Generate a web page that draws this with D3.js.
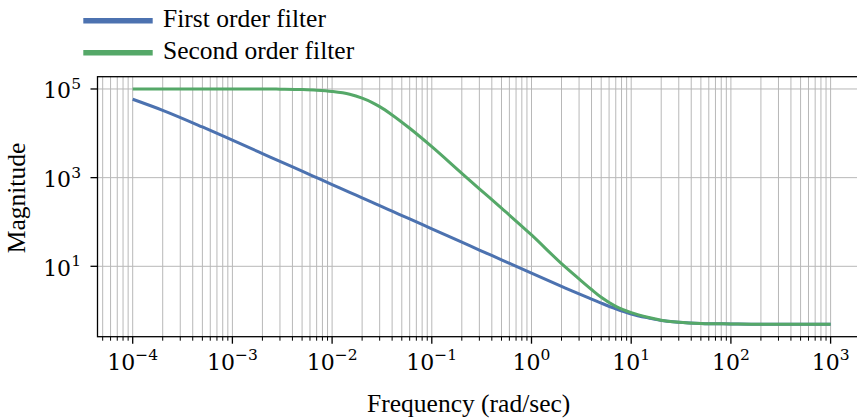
<!DOCTYPE html>
<html>
<head>
<meta charset="utf-8">
<script src="https://cdn.jsdelivr.net/npm/d3@7"></script>
<style>
  html, body { margin: 0; padding: 0; background: #ffffff; }
  svg { display: block; }
</style>
</head>
<body>
<svg id="chart" width="857" height="420"></svg>
<script>
// ---- data ----
const freq = [1e-4, 2e-4, 5e-4, 1e-3, 2e-3, 3e-3, 5e-3, 7e-3, 1e-2, 1.5e-2, 2e-2, 2.5e-2, 3e-2, 4e-2, 6e-2,
              1e-1, 2e-1, 3e-1, 5e-1, 1, 2, 3, 4, 5, 7, 10, 15, 20, 30, 50, 100, 200, 500, 1000];
const firstOrder = [5.86e4, 3.3e4, 1.39e4, 7.0e3, 3.5e3, 2.33e3, 1.4e3, 1.0e3, 700, 467, 350, 280, 233, 175, 117,
                    70, 35, 23.3, 14, 7.0, 3.53, 2.38, 1.82, 1.48, 1.1, 0.84, 0.68, 0.6, 0.55, 0.515, 0.5, 0.49, 0.49, 0.49];
const secondOrder = [1.0e5, 1.0e5, 1.0e5, 1.0e5, 1.0e5, 9.9e4, 9.7e4, 9.4e4, 8.8e4, 7.6e4, 6.2e4, 5.0e4, 4.0e4, 2.6e4, 1.3e4,
                     5.0e3, 1.25e3, 560, 205, 51, 11.5, 5.2, 3.0, 2.0, 1.25, 0.9, 0.7, 0.61, 0.55, 0.515, 0.5, 0.49, 0.49, 0.49];
const seriesNames = ["First order filter", "Second order filter"];
const seriesColors = ["#4c72b0", "#55a868"];
const xTickExps = [-4, -3, -2, -1, 0, 1, 2, 3];
const yTickExps = [1, 3, 5];
const xLabel = "Frequency (rad/sec)";
const yLabel = "Magnitude";

// ---- layout ----
const svg = d3.select("#chart");
const L = 97.5, R = 865.7, T = 76.7, B = 336.7;
const serif = "'Liberation Serif', 'Times New Roman', serif";
const mathFont = "'DejaVu Serif', serif";

const x = d3.scaleLog().domain([Math.pow(10, -4.353), Math.pow(10, 3.352)]).range([L, R]);
const y = d3.scaleLog().domain([Math.pow(10, -0.588), Math.pow(10, 5.277)]).range([B, T]);

const minus = "\u2212";
function expText(e) { return e < 0 ? minus + Math.abs(e) : String(e); }

// grid: x major + minor
const xGrid = [];
for (let k = -5; k <= 3; k++) {
  for (let m = 1; m <= 9; m++) {
    const v = m * Math.pow(10, k);
    if (v >= x.domain()[0] && v <= x.domain()[1]) xGrid.push({v: v, major: m === 1});
  }
}
const gGrid = svg.append("g");
gGrid.selectAll("line.xg").data(xGrid).enter().append("line")
  .attr("x1", d => x(d.v)).attr("x2", d => x(d.v))
  .attr("y1", T).attr("y2", B)
  .attr("stroke", "#b8b8b8").attr("stroke-width", 1);
gGrid.selectAll("line.yg").data(yTickExps).enter().append("line")
  .attr("x1", L).attr("x2", R)
  .attr("y1", d => y(Math.pow(10, d))).attr("y2", d => y(Math.pow(10, d)))
  .attr("stroke", "#b8b8b8").attr("stroke-width", 1);

// lines
const line = d3.line().x(d => x(d[0])).y(d => y(d[1])).curve(d3.curveMonotoneX);
[firstOrder, secondOrder].forEach((vals, i) => {
  svg.append("path")
    .datum(freq.map((f, j) => [f, vals[j]]))
    .attr("fill", "none")
    .attr("stroke", seriesColors[i])
    .attr("stroke-width", 3)
    .attr("stroke-linejoin", "round")
    .attr("stroke-linecap", "butt")
    .attr("d", line);
});

// spines
svg.append("rect").attr("x", L).attr("y", T).attr("width", R - L).attr("height", B - T)
  .attr("fill", "none").attr("stroke", "#000").attr("stroke-width", 1.3);

// x ticks
const gx = svg.append("g");
gx.selectAll("line").data(xGrid).enter().append("line")
  .attr("x1", d => x(d.v)).attr("x2", d => x(d.v))
  .attr("y1", B).attr("y2", d => B + (d.major ? 7 : 4))
  .attr("stroke", "#000").attr("stroke-width", d => d.major ? 1.3 : 1);
const xt = gx.selectAll("text").data(xTickExps).enter().append("text")
  .attr("x", d => x(Math.pow(10, d)))
  .attr("y", 369.5)
  .attr("text-anchor", "middle")
  .attr("font-family", mathFont)
  .attr("font-size", 22)
  .attr("fill", "#000");
xt.append("tspan").text("10");
xt.append("tspan").attr("dy", -9.5).attr("font-size", 15.5).text(d => expText(d));

// y ticks
const gy = svg.append("g");
gy.selectAll("line").data(yTickExps).enter().append("line")
  .attr("x1", L - 7).attr("x2", L)
  .attr("y1", d => y(Math.pow(10, d))).attr("y2", d => y(Math.pow(10, d)))
  .attr("stroke", "#000").attr("stroke-width", 1.3);
const yt = gy.selectAll("text").data(yTickExps).enter().append("text")
  .attr("x", 81)
  .attr("y", d => y(Math.pow(10, d)) + 9.5)
  .attr("text-anchor", "end")
  .attr("font-family", mathFont)
  .attr("font-size", 22)
  .attr("fill", "#000");
yt.append("tspan").text("10");
yt.append("tspan").attr("dy", -9.5).attr("font-size", 15.5).text(d => expText(d));

// axis labels
svg.append("text").attr("x", 468.7).attr("y", 411.5)
  .attr("text-anchor", "middle").attr("font-family", serif).attr("font-size", 25.5)
  .attr("fill", "#000").text(xLabel);
svg.append("text").attr("transform", "translate(25,198) rotate(-90)")
  .attr("text-anchor", "middle").attr("font-family", serif).attr("font-size", 25.5)
  .attr("fill", "#000").text(yLabel);

// legend
const legY = [20.7, 52.7];
seriesNames.forEach((name, i) => {
  svg.append("line").attr("x1", 83.3).attr("x2", 152.7)
    .attr("y1", legY[i]).attr("y2", legY[i])
    .attr("stroke", seriesColors[i]).attr("stroke-width", 5.5);
  svg.append("text").attr("x", 163).attr("y", legY[i] + 6.5)
    .attr("font-family", serif).attr("font-size", 25.5).attr("fill", "#000")
    .text(name);
});
</script>
</body>
</html>
